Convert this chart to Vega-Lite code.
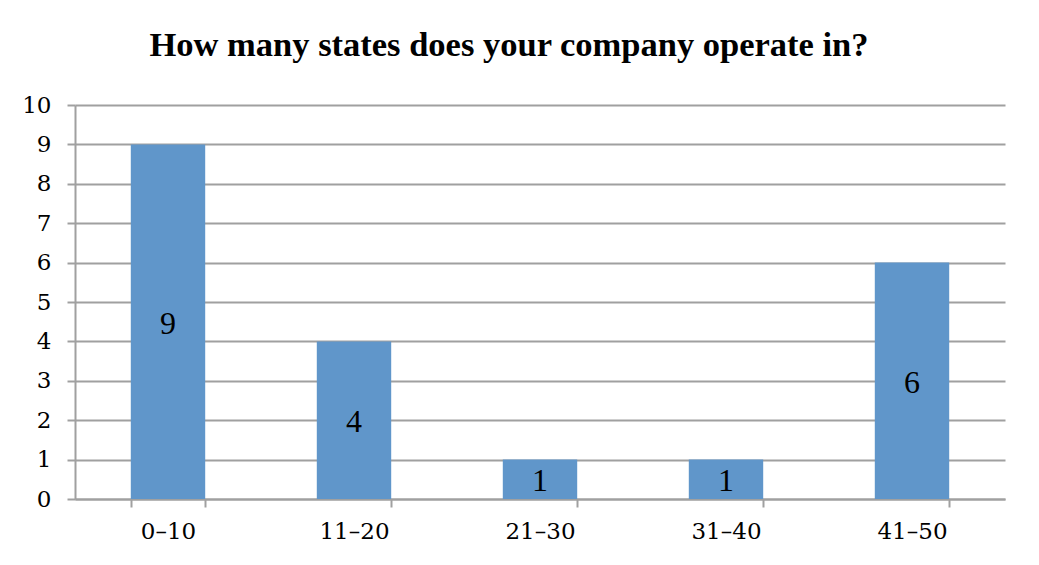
{
  "$schema": "https://vega.github.io/schema/vega-lite/v6.json",
  "width": 930,
  "height": 394,
  "autosize": {"type": "none"},
  "padding": {"left": 75, "top": 105, "right": 34, "bottom": 66},
  "background": "white",
  "title": {
    "text": "How many states does your company operate in?",
    "font": "Liberation Serif",
    "fontSize": 34.5,
    "fontWeight": "bold",
    "color": "black",
    "anchor": "middle",
    "offset": 31,
    "dx": -31
  },
  "data": {
    "values": [
      {"range": "0–10", "count": 9},
      {"range": "11–20", "count": 4},
      {"range": "21–30", "count": 1},
      {"range": "31–40", "count": 1},
      {"range": "41–50", "count": 6}
    ]
  },
  "config": {
    "view": {"stroke": null}
  },
  "encoding": {
    "x": {
      "field": "range",
      "type": "nominal",
      "sort": null,
      "scale": {"paddingInner": 0.6, "paddingOuter": 0.3},
      "axis": {
        "title": null,
        "labelAngle": 0,
        "tickBand": "extent",
        "labelPadding": 13,
        "grid": false,
        "labelFont": "DejaVu Serif",
        "labelFontSize": 23,
        "labelColor": "black",
        "domainColor": "#a0a0a0",
        "domainWidth": 2,
        "tickColor": "#a0a0a0",
        "tickWidth": 2,
        "tickSize": 8
      }
    }
  },
  "layer": [
    {
      "mark": {"type": "bar", "color": "#6096ca"},
      "encoding": {
        "y": {
          "field": "count",
          "type": "quantitative",
          "scale": {"domain": [0, 10]},
          "axis": {
            "title": null,
            "values": [0, 1, 2, 3, 4, 5, 6, 7, 8, 9, 10],
            "labelOverlap": false,
            "labelPadding": 16,
            "labelFont": "DejaVu Serif",
            "labelFontSize": 23,
            "labelColor": "black",
            "domainColor": "#a0a0a0",
            "domainWidth": 2,
            "tickColor": "#a0a0a0",
            "tickWidth": 2,
            "tickSize": 8,
            "gridColor": "#a0a0a0",
            "gridWidth": 2
          }
        }
      }
    },
    {
      "mark": {
        "type": "text",
        "font": "Liberation Serif",
        "fontSize": 32,
        "color": "black",
        "baseline": "middle",
        "dy": 2
      },
      "encoding": {
        "y": {
          "field": "count",
          "type": "quantitative",
          "scale": {"domain": [0, 20]},
          "axis": null
        },
        "text": {"field": "count", "type": "quantitative"}
      }
    }
  ],
  "resolve": {"scale": {"y": "independent"}, "axis": {"y": "independent"}}
}
